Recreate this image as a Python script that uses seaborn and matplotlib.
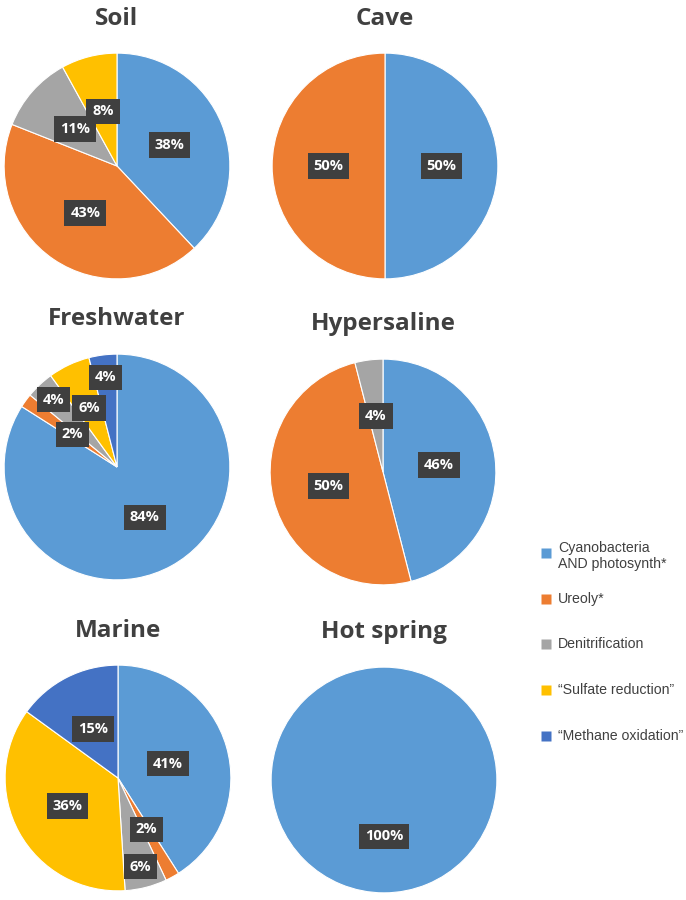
import matplotlib
matplotlib.use('Agg')
import matplotlib.pyplot as plt
from matplotlib.lines import Line2D
import seaborn as sns

# ---------------- data ----------------
categories = ['Cyanobacteria\nAND photosynth*', 'Ureoly*', 'Denitrification',
              '\u201cSulfate reduction\u201d', '\u201cMethane oxidation\u201d']
environments = ['Soil', 'Cave', 'Freshwater', 'Hypersaline', 'Marine', 'Hot spring']

soil = [38, 43, 11, 8, 0]
cave = [50, 50, 0, 0, 0]
freshwater = [84, 2, 4, 6, 4]
hypersaline = [46, 50, 4, 0, 0]
marine = [41, 2, 6, 36, 15]
hot_spring = [100, 0, 0, 0, 0]
shares = [soil, cave, freshwater, hypersaline, marine, hot_spring]

# ---------------- style ----------------
sns.set_theme(style='white')
plt.rcParams['font.family'] = ['Open Sans', 'DejaVu Sans']
colors = sns.color_palette(['#5B9BD5', '#ED7D31', '#A5A5A5', '#FFC000', '#4472C4'])
TXT = '#404040'

W, H = 686, 900
R = 114
# pie centre (px from top-left) and title baseline
layout = {
    'Soil':        dict(c=(117, 166), t=25),
    'Cave':        dict(c=(385, 166), t=25),
    'Freshwater':  dict(c=(117, 467), t=325),
    'Hypersaline': dict(c=(383, 472), t=330),
    'Marine':      dict(c=(118, 778), t=637),
    'Hot spring':  dict(c=(384, 780), t=638),
}
# label radius (fraction of pie radius) where Excel moved labels out of small slices
label_r = {
    'Freshwater': [0.51, 0.49, 0.82, 0.58, 0.80],
    'Marine':     [0.46, 0.52, 0.81, 0.51, 0.49],
}

fig = plt.figure(figsize=(W / 100, H / 100), dpi=100)
fig.patch.set_facecolor('white')

for env, vals in zip(environments, shares):
    cx, cy = layout[env]['c']
    ax = fig.add_axes([(cx - R) / W, 1 - (cy + R) / H, 2 * R / W, 2 * R / H])
    keep = [i for i, v in enumerate(vals) if v > 0]
    v = [vals[i] for i in keep]
    cl = [colors[i] for i in keep]
    wedges, _, autotexts = ax.pie(
        v, colors=cl, startangle=90, counterclock=False,
        autopct=lambda p: f'{p:.0f}%', pctdistance=0.5,
        wedgeprops=dict(edgecolor='white', linewidth=0.8),
    )
    for j, t in enumerate(autotexts):
        if env in label_r:
            x, y = t.get_position()
            k = label_r[env][keep[j]] / 0.5
            t.set_position((x * k, y * k))
        t.set_color('white')
        t.set_fontweight('bold')
        t.set_fontsize(10.5)
        t.set_bbox(dict(boxstyle='square,pad=0.4', facecolor='#3f3f3f', edgecolor='none'))
    ax.set_xlim(-1.01, 1.01)
    ax.set_ylim(-1.01, 1.01)
    ax.axis('off')
    fig.text(cx / W, 1 - layout[env]['t'] / H, env, ha='center', va='baseline',
             fontsize=17.5, fontweight='bold', color=TXT)

# legend, laid out like the Excel one (evenly spaced rows)
leg_font = {'family': ['Liberation Sans', 'DejaVu Sans'], 'size': 10.2}
for i, (lab, c) in enumerate(zip(categories, colors)):
    y = 553 + 45.7 * i
    fig.add_artist(Line2D([546 / W], [1 - y / H], marker='s', markersize=6.5,
                          markerfacecolor=c, markeredgecolor='none',
                          linestyle='none', transform=fig.transFigure))
    dy = 3 if '\n' in lab else 0
    fig.text(558 / W, 1 - (y + dy) / H, lab, ha='left', va='center',
             color=TXT, fontdict=leg_font, linespacing=1.15)

fig.savefig('out.png', dpi=100, facecolor='white')
